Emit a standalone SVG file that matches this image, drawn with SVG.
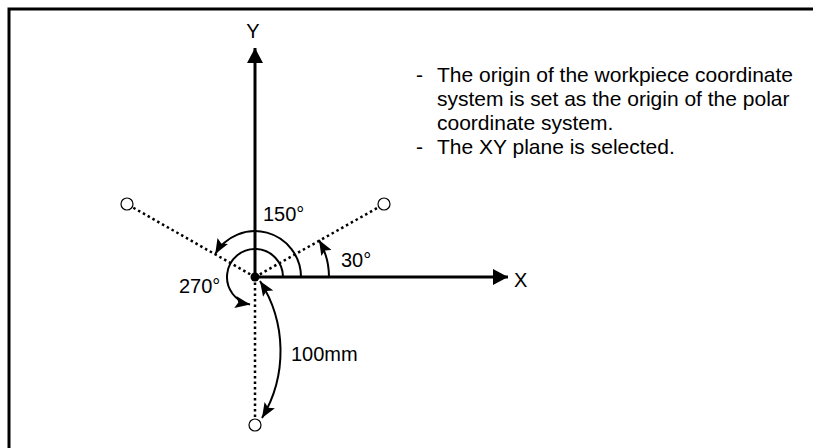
<svg xmlns="http://www.w3.org/2000/svg" width="813" height="448" viewBox="0 0 813 448">
<style>
text{font-family:"Liberation Sans",Arial,sans-serif;font-size:20px;fill:#000}
.note{font-size:21px}
.axis{stroke:#000;stroke-width:3;fill:none}
.dot{stroke:#000;stroke-width:2.5;stroke-dasharray:2.5 3;fill:none}
.arc{stroke:#000;stroke-width:2;fill:none}
.pt{stroke:#000;stroke-width:1.2;fill:#fff}
</style>
<defs>
<marker id="bigArrow" markerUnits="userSpaceOnUse" markerWidth="16" markerHeight="16" refX="15" refY="8" orient="auto"><path d="M0,0 L15,8 L0,16 Z" fill="#000"/></marker>
<marker id="arcArrow" markerUnits="userSpaceOnUse" markerWidth="16" markerHeight="12" refX="15" refY="6" orient="auto-start-reverse"><path d="M0,0 L15,6 L0,12 L3,6 Z" fill="#000"/></marker>
</defs>
<g id="frame"><path d="M9,448 V9 H813" fill="none" stroke="#000" stroke-width="3"/></g>
<g id="connectors">
<line class="dot" x1="255" y1="277" x2="132" y2="207"/>
<line class="dot" x1="255" y1="277" x2="379" y2="207"/>
<line class="dot" x1="255" y1="277" x2="255" y2="419"/>
<line class="axis" x1="255" y1="277" x2="508" y2="277" marker-end="url(#bigArrow)"/>
<line class="axis" x1="255" y1="277" x2="255" y2="48" marker-end="url(#bigArrow)"/>
<path class="arc" d="M301,277 A46,46 0 0 0 215.2,254" marker-end="url(#arcArrow)"/>
<path class="arc" d="M329,277 A74,74 0 0 0 319,240" marker-end="url(#arcArrow)"/>
<path class="arc" d="M283,277 A28,28 0 1 0 250.1,304.6" marker-end="url(#arcArrow)"/>
<path class="arc" d="M260,281 A130,130 0 0 1 262,418" marker-start="url(#arcArrow)" marker-end="url(#arcArrow)"/>
</g>
<g id="origin"><circle cx="255" cy="277" r="4.5" fill="#000"/></g>
<g id="p150"><circle class="pt" cx="127" cy="204" r="6"/></g>
<g id="p30"><circle class="pt" cx="384" cy="204" r="6"/></g>
<g id="p270"><circle class="pt" cx="255" cy="425" r="6"/></g>
<g id="labels">
<text x="253" y="38" text-anchor="middle">Y</text>
<text x="514" y="287">X</text>
<text x="263" y="221">150°</text>
<text x="341" y="267">30°</text>
<text x="179" y="293">270°</text>
<text x="291" y="361">100mm</text>
</g>
<g id="notes">
<text class="note" x="416" y="82">-</text><text class="note" x="437" y="82">The origin of the workpiece coordinate</text>
<text class="note" x="437" y="106">system is set as the origin of the polar</text>
<text class="note" x="437" y="130">coordinate system.</text>
<text class="note" x="416" y="154">-</text><text class="note" x="437" y="154">The XY plane is selected.</text>
</g>
</svg>
